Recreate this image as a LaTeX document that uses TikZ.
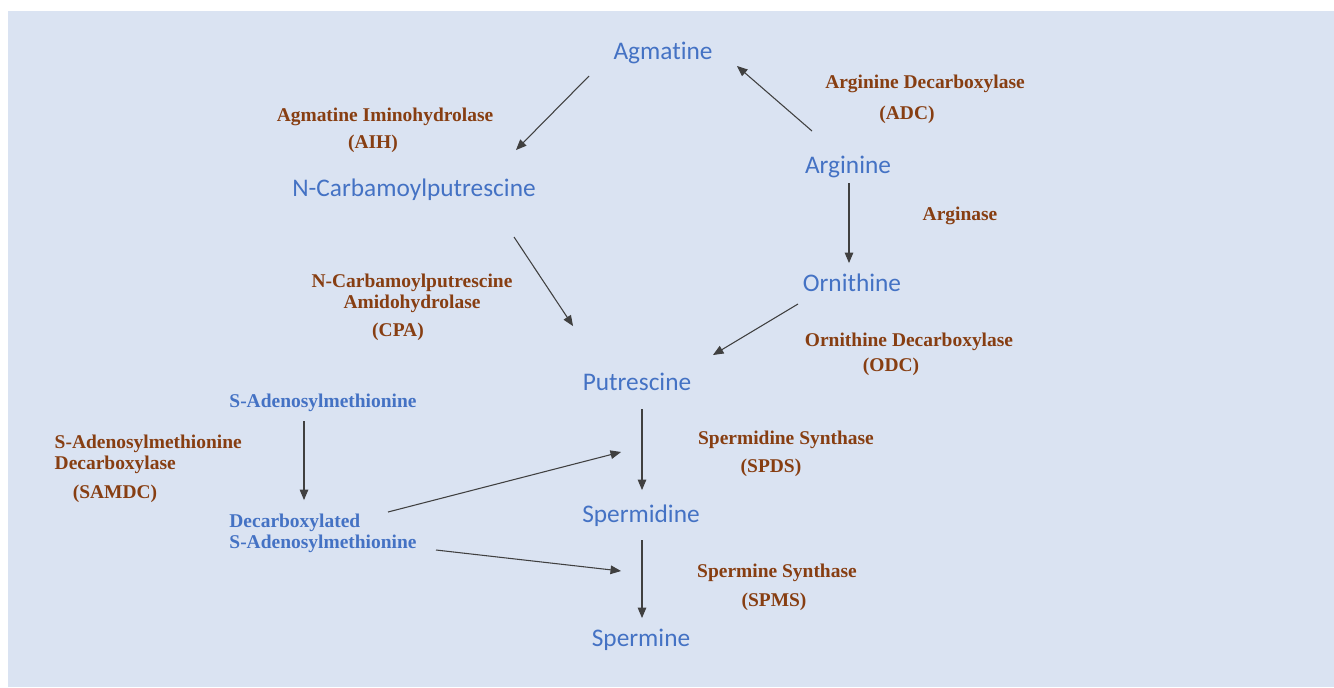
\documentclass[tikz,border=0pt]{standalone}
\usepackage{fontspec}
\setmainfont{Liberation Serif}
\setsansfont[Ligatures=NoCommon]{Carlito}
\usetikzlibrary{arrows}
\definecolor{bgblue}{RGB}{218,227,242}
\definecolor{cmpblue}{RGB}{68,114,196}
\definecolor{enzbrown}{RGB}{135,62,18}

\begin{document}
\begin{tikzpicture}
  [x=0.75pt,y=-0.75pt,
   cmp/.style={text=cmpblue,font=\sffamily\fontsize{19}{23}\selectfont},
   sercmp/.style={text=cmpblue,font=\bfseries\fontsize{14.6}{15.75}\selectfont,align=left},
   enz/.style={text=enzbrown,font=\bfseries\fontsize{14.6}{15.75}\selectfont,align=center},
   rxn/.style={draw=black!75,line width=0.8pt,arrows={-{triangle 45}}}]
  \useasboundingbox (0,0) rectangle (1334,687);
  \fill[bgblue] (8,11) rectangle (1334,687);

  % compounds
  \node[cmp] (agm) at (663,53) {Agmatine};
  \node[cmp] (ncp) at (414,190) {N-Carbamoylputrescine};
  \node[cmp] (arg) at (848,167) {Arginine};
  \node[cmp] (orn) at (852,283) {Ornithine};
  \node[cmp] (put) at (637,382) {Putrescine};
  \node[cmp] (spd) at (641,516) {Spermidine};
  \node[cmp] (spm) at (641,640) {Spermine};
  \node[sercmp] (sam) at (323,403) {S-Adenosylmethionine};
  \node[sercmp] (dcsam) at (323,533) {Decarboxylated\\S-Adenosylmethionine};

  % enzymes
  \node[enz] (aih) at (385,117) {Agmatine Iminohydrolase};
  \node[enz] (aihab) at (373,144) {(AIH)};
  \node[enz] (adc) at (925,84) {Arginine Decarboxylase};
  \node[enz] (adcab) at (907,115) {(ADC)};
  \node[enz] (ase) at (960,216) {Arginase};
  \node[enz] (cpa) at (412,293) {N-Carbamoylputrescine\\Amidohydrolase};
  \node[enz] (cpaab) at (398,332) {(CPA)};
  \node[enz] (odc) at (909,342) {Ornithine Decarboxylase};
  \node[enz] (odcab) at (891,367) {(ODC)};
  \node[enz,align=left,anchor=west] (samdc) at (50,454) {S-Adenosylmethionine\\Decarboxylase};
  \node[enz] (samdcab) at (115,494) {(SAMDC)};
  \node[enz] (spds) at (786,440) {Spermidine Synthase};
  \node[enz] (spdsab) at (771,468) {(SPDS)};
  \node[enz] (spms) at (777,573) {Spermine Synthase};
  \node[enz] (spmsab) at (774,602) {(SPMS)};

  \coordinate (spdin) at (621,452);
  \coordinate (spmin) at (621,571);

  \draw[rxn] ([shift={(-74,23)}]agm.center) to ([shift={(102,-40)}]ncp.center);
  \draw[rxn] ([shift={(-36,-36)}]arg.center) to ([shift={(74,13)}]agm.center);
  \draw[rxn] ([shift={(1,16)}]arg.center) to ([shift={(-3,-20)}]orn.center);
  \draw[rxn] ([shift={(100,47)}]ncp.center) to ([shift={(-64,-56)}]put.center);
  \draw[rxn] ([shift={(-54,21)}]orn.center) to ([shift={(76,-27)}]put.center);
  \draw[rxn] ([shift={(5,27)}]put.center) to ([shift={(1,-26)}]spd.center);
  \draw[rxn] ([shift={(1,24)}]spd.center) to ([shift={(1,-22)}]spm.center);
  \draw[rxn] ([shift={(-19,18)}]sam.center) to ([shift={(-19,-33)}]dcsam.center);
  \draw[rxn] ([shift={(65,-21)}]dcsam.center) to (spdin);
  \draw[rxn] ([shift={(113,17)}]dcsam.center) to (spmin);
\end{tikzpicture}
\end{document}
